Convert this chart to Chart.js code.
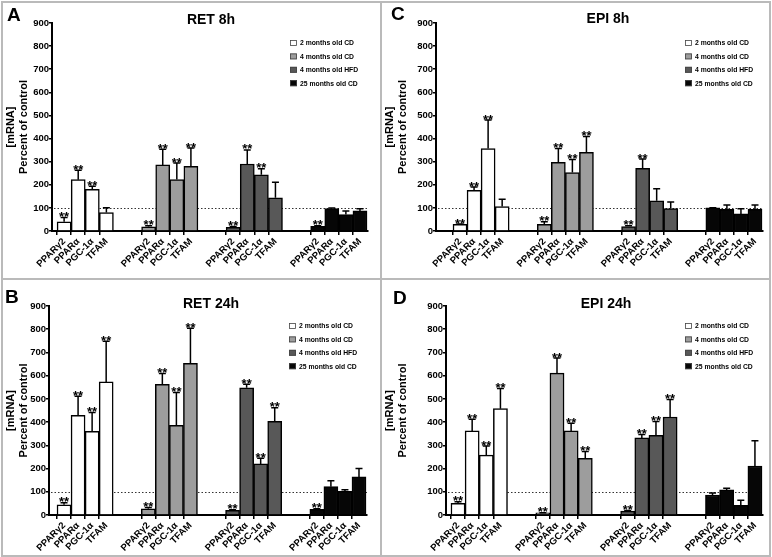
<!DOCTYPE html>
<html>
<head>
<meta charset="utf-8">
<script src="https://cdn.jsdelivr.net/npm/chart.js@4.4.1/dist/chart.umd.min.js"></script>
<style>
  html, body { margin: 0; padding: 0; background: #fff; }
  #page { position: relative; width: 772px; height: 557px; overflow: hidden; background: #fff; }
  .line { position: absolute; background: #bababa; }
  canvas { position: absolute; }
</style>
</head>
<body>
<div id="page">
  <div class="line" style="left:1px;top:1px;width:770px;height:2px"></div>
  <div class="line" style="left:1px;top:1px;width:2px;height:555px"></div>
  <div class="line" style="left:769px;top:1px;width:2px;height:555px"></div>
  <div class="line" style="left:1px;top:555px;width:770px;height:2px"></div>
  <div class="line" style="left:380px;top:1px;width:2px;height:555px"></div>
  <div class="line" style="left:1px;top:278px;width:770px;height:2px"></div>
  <canvas id="chartA" width="377" height="275" style="left:3px;top:3px"></canvas>
  <canvas id="chartC" width="387" height="275" style="left:382px;top:3px"></canvas>
  <canvas id="chartB" width="377" height="275" style="left:3px;top:280px"></canvas>
  <canvas id="chartD" width="387" height="275" style="left:382px;top:280px"></canvas>
</div>
<script>
// categorias e séries
const genes = ['PPARγ2', 'PPARα', 'PGC-1α', 'TFAM'];
const groups = ['2 months old CD', '4 months old CD', '4 months old HFD', '25 months old CD'];
const yTicks = [0, 100, 200, 300, 400, 500, 600, 700, 800, 900];
const controlLevel = 100;

// médias (ordem: grupo 1 genes 1-4, grupo 2 ...), erro superior e significância
const ret8hMean = [40, 222, 180, 80, 18, 286, 223, 280, 16, 290, 243, 144, 20, 97, 71, 87];
const ret8hErr  = [18, 41, 14, 21, 5, 68, 71, 79, 3, 61, 26, 67, 3, 3, 15, 9];
const ret8hSig  = ['**', '**', '**', '', '**', '**', '**', '**', '**', '**', '**', '', '**', '', '', ''];

const epi8hMean = [29, 176, 357, 106, 29, 297, 253, 340, 19, 271, 131, 97, 100, 94, 74, 94];
const epi8hErr  = [1, 14, 123, 31, 11, 60, 56, 69, 4, 40, 52, 29, 1, 19, 22, 19];
const epi8hSig  = ['**', '**', '**', '', '**', '**', '**', '**', '**', '**', '', '', '', '', '', ''];

const ret24hMean = [44, 429, 360, 573, 27, 563, 386, 653, 20, 548, 220, 403, 24, 122, 102, 164];
const ret24hErr  = [9, 82, 81, 175, 5, 46, 141, 151, 3, 15, 24, 59, 3, 26, 7, 36];
const ret24hSig  = ['**', '**', '**', '**', '**', '**', '**', '**', '**', '**', '**', '**', '**', '', '', ''];

const epi24hMean = [50, 362, 258, 458, 9, 611, 362, 244, 17, 332, 343, 422, 86, 108, 42, 211];
const epi24hErr  = [7, 50, 39, 87, 1, 65, 33, 29, 2, 15, 60, 75, 9, 7, 21, 109];
const epi24hSig  = ['**', '**', '**', '**', '**', '**', '**', '**', '**', '**', '**', '**', '', '', '', ''];

// estilos
const groupColors = ['#ffffff', '#9d9d9d', '#585858', '#060606'];
const FONT = '"Liberation Sans", Arial, Helvetica, sans-serif';
Chart.defaults.font.family = FONT;
Chart.defaults.color = '#000';

// posição de cada gene no eixo x (4 barras + 2 espaços por grupo)
const SLOT = 6;
function labelAt(v) {
    if (!Number.isInteger(v) || v < 0) return '';
    const k = v % SLOT;
    return k < genes.length ? genes[k] : '';
}

function overlay(p, mean, err, sig) {
    return {
        id: 'overlay' + p.letter,
        beforeDatasetsDraw(chart) {
            const { ctx, chartArea, scales: { y } } = chart;
            const yy = Math.round(y.getPixelForValue(controlLevel)) + 0.5;
            ctx.save();
            ctx.strokeStyle = '#333';
            ctx.lineWidth = 1;
            ctx.setLineDash([1.5, 2]);
            ctx.beginPath();
            ctx.moveTo(chartArea.left + 2, yy);
            ctx.lineTo(chartArea.right, yy);
            ctx.stroke();
            ctx.restore();
        },
        afterDatasetsDraw(chart) {
            const { ctx, scales: { y } } = chart;
            ctx.save();
            chart.data.datasets.forEach((ds, g) => {
                chart.getDatasetMeta(g).data.forEach((bar, k) => {
                    const i = g * genes.length + k;
                    const top = y.getPixelForValue(mean[i]);
                    const end = y.getPixelForValue(mean[i] + err[i]);
                    ctx.strokeStyle = '#000';
                    ctx.lineWidth = 1.5;
                    ctx.beginPath();
                    ctx.moveTo(bar.x, top);
                    ctx.lineTo(bar.x, end);
                    ctx.moveTo(bar.x - 3.5, end);
                    ctx.lineTo(bar.x + 3.5, end);
                    ctx.stroke();
                    if (sig[i]) {
                        ctx.fillStyle = '#000';
                        ctx.font = 'bold 13px ' + FONT;
                        ctx.textAlign = 'center';
                        ctx.textBaseline = 'alphabetic';
                        ctx.fillText(sig[i], bar.x, end + 3.5);
                    }
                });
            });
            ctx.restore();
        },
        afterDraw(chart) {
            const { ctx, chartArea } = chart;
            ctx.save();
            // letra do painel
            ctx.fillStyle = '#000';
            ctx.font = 'bold 19px ' + FONT;
            ctx.textAlign = 'left';
            ctx.textBaseline = 'alphabetic';
            ctx.fillText(p.letter, p.letterX - p.left, p.letterY - p.top);
            // título
            ctx.font = 'bold 14px ' + FONT;
            ctx.textAlign = 'center';
            ctx.textBaseline = 'middle';
            ctx.fillText(p.title, p.titleX - p.left, p.titleY - p.top);
            // legenda
            const lx = chartArea.right - 78;
            groups.forEach((name, g) => {
                const cy = chartArea.top + 20 + g * 13.4;
                ctx.fillStyle = groupColors[g];
                ctx.fillRect(lx, cy - 3, 7, 6);
                ctx.strokeStyle = '#444';
                ctx.lineWidth = 0.8;
                ctx.strokeRect(lx + 0.5, cy - 2.5, 6, 5);
                ctx.fillStyle = '#000';
                ctx.font = 'bold 6.8px ' + FONT;
                ctx.textAlign = 'left';
                ctx.textBaseline = 'middle';
                ctx.fillText(name, lx + 10, cy + 0.5);
            });
            ctx.restore();
        }
    };
}

function criarPainel(p, mean, err, sig) {
    const datasets = groups.map((name, g) => ({
        label: name,
        data: genes.map((gene, k) => ({ x: g * SLOT + k, y: mean[g * genes.length + k] })),
        backgroundColor: groupColors[g],
        borderColor: '#000',
        borderWidth: 1.5,
        categoryPercentage: 1,
        barPercentage: 1
    }));

    new Chart(document.getElementById(p.id), {
        type: 'bar',
        data: { datasets },
        options: {
            responsive: false,
            animation: false,
            layout: {
                padding: { left: 0, top: p.plotTop - p.top, right: p.left + p.width - p.plotRight, bottom: 0 }
            },
            plugins: { legend: { display: false }, tooltip: { enabled: false } },
            scales: {
                x: {
                    type: 'linear',
                    min: p.xMin,
                    max: p.xMax,
                    stacked: true,
                    offset: false,
                    grid: {
                        drawOnChartArea: false,
                        tickLength: 4,
                        lineWidth: 1.5,
                        color: c => (c.tick && labelAt(c.tick.value)) ? '#000' : 'rgba(0,0,0,0)'
                    },
                    border: { color: '#000', width: 2 },
                    ticks: {
                        stepSize: 1,
                        includeBounds: false,
                        autoSkip: false,
                        minRotation: 45,
                        maxRotation: 45,
                        padding: 1,
                        color: '#000',
                        font: { size: 9.5, weight: 'bold' },
                        callback: v => labelAt(v)
                    },
                    afterFit: s => { s.height = p.top + p.height - p.plotBottom; }
                },
                y: {
                    min: yTicks[0],
                    max: yTicks[yTicks.length - 1],
                    grid: { drawOnChartArea: false, tickLength: 3, lineWidth: 1.5, color: '#000' },
                    border: { color: '#000', width: 2 },
                    ticks: {
                        stepSize: yTicks[1] - yTicks[0],
                        padding: 0,
                        color: '#000',
                        font: { size: 9.5, weight: 'bold' }
                    },
                    title: {
                        display: true,
                        text: ['[mRNA]', 'Percent of control'],
                        color: '#000',
                        font: { size: 11, weight: 'bold', lineHeight: 1.15 },
                        padding: { top: 2, bottom: 0 }
                    },
                    afterFit: s => { s.width = p.plotLeft - p.left; }
                }
            }
        },
        plugins: [overlay(p, mean, err, sig)]
    });
}

const painelA = { id: 'chartA', letter: 'A', title: 'RET 8h', left: 3, top: 3, width: 377, height: 275,
    plotLeft: 52, plotTop: 23, plotRight: 368, plotBottom: 231, xMin: -0.86, xMax: 21.57,
    letterX: 7, letterY: 21, titleX: 211, titleY: 20 };
const painelC = { id: 'chartC', letter: 'C', title: 'EPI 8h', left: 382, top: 3, width: 387, height: 275,
    plotLeft: 436, plotTop: 23, plotRight: 763, plotBottom: 231, xMin: -1.71, xMax: 21.57,
    letterX: 391, letterY: 20, titleX: 608, titleY: 19 };
const painelB = { id: 'chartB', letter: 'B', title: 'RET 24h', left: 3, top: 280, width: 377, height: 275,
    plotLeft: 49, plotTop: 306, plotRight: 367, plotBottom: 515, xMin: -1.07, xMax: 21.57,
    letterX: 5, letterY: 303, titleX: 211, titleY: 304 };
const painelD = { id: 'chartD', letter: 'D', title: 'EPI 24h', left: 382, top: 280, width: 387, height: 275,
    plotLeft: 446, plotTop: 306, plotRight: 763, plotBottom: 515, xMin: -0.85, xMax: 21.57,
    letterX: 393, letterY: 304, titleX: 606, titleY: 304 };

criarPainel(painelA, ret8hMean, ret8hErr, ret8hSig);
criarPainel(painelC, epi8hMean, epi8hErr, epi8hSig);
criarPainel(painelB, ret24hMean, ret24hErr, ret24hSig);
criarPainel(painelD, epi24hMean, epi24hErr, epi24hSig);
</script>
</body>
</html>
